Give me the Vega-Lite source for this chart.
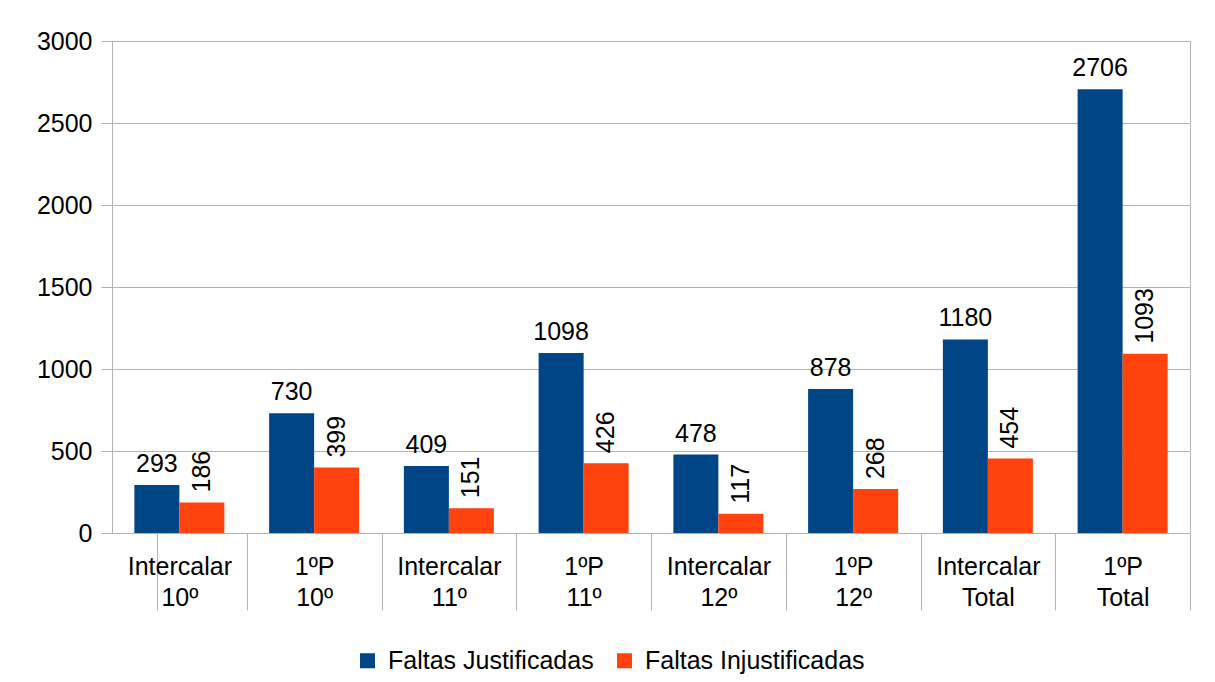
{
  "$schema": "https://vega.github.io/schema/vega-lite/v6.json",
  "autosize": {"type": "none"},
  "padding": {"left": 112, "top": 41, "right": 25, "bottom": 149},
  "width": 1078,
  "height": 492,
  "background": "white",
  "data": {
    "values": [
      {"cat": "Intercalar 10º", "serie": "Faltas Justificadas", "valor": 293},
      {"cat": "Intercalar 10º", "serie": "Faltas Injustificadas", "valor": 186},
      {"cat": "1ºP 10º", "serie": "Faltas Justificadas", "valor": 730},
      {"cat": "1ºP 10º", "serie": "Faltas Injustificadas", "valor": 399},
      {"cat": "Intercalar 11º", "serie": "Faltas Justificadas", "valor": 409},
      {"cat": "Intercalar 11º", "serie": "Faltas Injustificadas", "valor": 151},
      {"cat": "1ºP 11º", "serie": "Faltas Justificadas", "valor": 1098},
      {"cat": "1ºP 11º", "serie": "Faltas Injustificadas", "valor": 426},
      {"cat": "Intercalar 12º", "serie": "Faltas Justificadas", "valor": 478},
      {"cat": "Intercalar 12º", "serie": "Faltas Injustificadas", "valor": 117},
      {"cat": "1ºP 12º", "serie": "Faltas Justificadas", "valor": 878},
      {"cat": "1ºP 12º", "serie": "Faltas Injustificadas", "valor": 268},
      {"cat": "Intercalar Total", "serie": "Faltas Justificadas", "valor": 1180},
      {"cat": "Intercalar Total", "serie": "Faltas Injustificadas", "valor": 454},
      {"cat": "1ºP Total", "serie": "Faltas Justificadas", "valor": 2706},
      {"cat": "1ºP Total", "serie": "Faltas Injustificadas", "valor": 1093}
    ]
  },
  "encoding": {
    "x": {
      "field": "cat",
      "type": "nominal",
      "sort": null,
      "title": null,
      "scale": {"paddingInner": 0.332, "paddingOuter": 0.166},
      "axis": {
        "bandPosition": 1,
        "tickExtra": true,
        "tickOffset": 22.4,
        "labelOffset": -22.4,
        "tickSize": 77,
        "tickColor": "#b3b3b3",
        "domainColor": "#b3b3b3",
        "labelExpr": "split(datum.label, ' ')",
        "labelPadding": -56,
        "labelLineHeight": 31,
        "labelFontSize": 25,
        "labelFont": "Liberation Sans",
        "labelColor": "#000000",
        "labelAngle": 0,
        "grid": false
      }
    },
    "xOffset": {"field": "serie", "sort": ["Faltas Justificadas", "Faltas Injustificadas"]},
    "y": {
      "field": "valor",
      "type": "quantitative",
      "title": null,
      "scale": {"domain": [0, 3000], "nice": false},
      "axis": {
        "values": [0, 500, 1000, 1500, 2000, 2500, 3000],
        "format": "d",
        "grid": true,
        "gridColor": "#b3b3b3",
        "domainColor": "#b3b3b3",
        "tickColor": "#b3b3b3",
        "tickSize": 11,
        "labelPadding": 9,
        "labelFontSize": 25,
        "labelFont": "Liberation Sans",
        "labelColor": "#000000"
      }
    }
  },
  "layer": [
    {
      "mark": {"type": "bar"},
      "encoding": {
        "color": {
          "field": "serie",
          "type": "nominal",
          "scale": {"domain": ["Faltas Justificadas", "Faltas Injustificadas"], "range": ["#004586", "#ff420e"]},
          "legend": {
            "title": null,
            "orient": "none",
            "legendX": 243,
            "legendY": 607,
            "direction": "horizontal",
            "symbolType": "square",
            "symbolSize": 225,
            "symbolStrokeWidth": 0,
            "labelFontSize": 25,
            "labelFont": "Liberation Sans",
            "labelColor": "#000000",
            "labelOffset": 8,
            "columnPadding": 18,
            "labelLimit": 400
          }
        }
      }
    },
    {
      "transform": [{"filter": "datum.serie === 'Faltas Justificadas'"}],
      "mark": {"type": "text", "baseline": "alphabetic", "align": "center", "dy": -13, "fontSize": 25, "font": "Liberation Sans", "color": "#000000"},
      "encoding": {"text": {"field": "valor", "type": "quantitative", "format": "d"}}
    },
    {
      "transform": [{"filter": "datum.serie === 'Faltas Injustificadas'"}],
      "mark": {"type": "text", "angle": 270, "align": "left", "baseline": "middle", "dx": 10, "fontSize": 25, "font": "Liberation Sans", "color": "#000000"},
      "encoding": {"text": {"field": "valor", "type": "quantitative", "format": "d"}}
    }
  ],
  "config": {
    "view": {"stroke": "#b3b3b3"}
  }
}
